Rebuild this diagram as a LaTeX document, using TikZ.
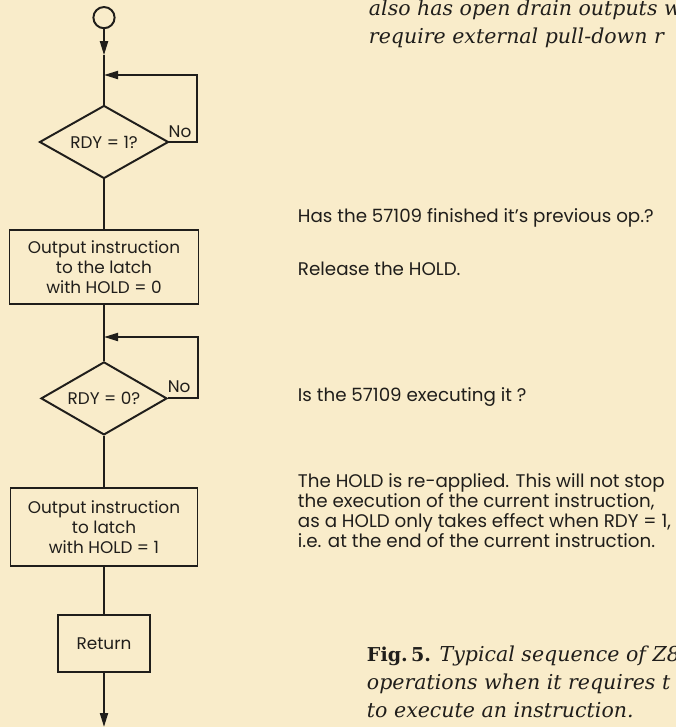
\documentclass[tikz,border=0pt]{standalone}
\usepackage{fontspec}
\setmainfont{DejaVu Serif}
\setsansfont{Poppins}
\usetikzlibrary{shapes.geometric,arrows.meta}
\definecolor{paper}{RGB}{249,236,202}
\definecolor{ink}{RGB}{32,30,27}

\begin{document}
\begin{tikzpicture}[>={Triangle[length=0.35cm,width=0.2cm]},line width=1.4pt,draw=ink,text=ink,
  font=\sffamily\fontsize{12}{14.2}\selectfont,
  box/.style={draw,rectangle,align=center,inner sep=0},
  decision/.style={draw,diamond,aspect=1.8,inner sep=0},
  note/.style={anchor=west,inner sep=0,align=left,font=\sffamily\fontsize{13}{14.2}\selectfont},
  prose/.style={note,font=\rmfamily\itshape\fontsize{14.6}{19.9}\selectfont}]
\fill[paper] (0,0) rectangle (16.9,-18.175);
\clip (0,0) rectangle (16.9,-18.175);

\node[draw,circle,minimum size=0.53cm,inner sep=0] (start) at (2.6,-0.44) {};
\coordinate (mid1) at (2.6,-1.38);
\coordinate (join1) at (2.6,-1.875);
\node[decision,minimum width=3.225cm,minimum height=1.825cm] (rdy1) at (2.6,-3.55) {RDY = 1?};
\node[box,minimum width=4.725cm,minimum height=1.85cm] (hold0) at (2.6,-6.675) {Output instruction\\to the latch\\with HOLD = 0};
\coordinate (join2) at (2.6,-8.425);
\node[decision,minimum width=3.15cm,minimum height=1.825cm] (rdy0) at (2.6,-9.96) {RDY = 0?};
\node[box,minimum width=4.675cm,minimum height=1.95cm] (hold1) at (2.6,-13.175) {Output instruction\\to latch\\with HOLD = 1};
\node[box,minimum width=2.3cm,minimum height=1.425cm] (ret) at (2.6,-16.09) {Return};
\coordinate (exit) at (2.6,-18.175);

\node (no1) at (4.5,-3.3) {No};
\node (no0) at (4.48,-9.675) {No};

\draw[->] (start) -- (mid1);
\draw (mid1) -- (rdy1);
\draw[->] (rdy1.east) -- ++(0.68,0) |- (join1);
\draw (rdy1) -- (hold0);
\draw (hold0) -- (rdy0);
\draw[->] (rdy0.east) -- ++(0.75,0) |- (join2);
\draw (rdy0) -- (hold1);
\draw (hold1) -- (ret);
\draw[->] (ret) -- (exit);

\node[prose] (intro) at (9.2,-0.6) {also has open drain outputs w\\require external pull-down r};
\node[note] (ask1) at (7.425,-5.45) {Has the 57109 finished it's previous op.?};
\node[note] (rel) at (7.425,-6.725) {Release the HOLD.};
\node[note] (ask0) at (7.425,-9.925) {Is the 57109 executing it ?};
\node[note] (reapply) at (7.425,-12.775) {The HOLD is re-applied. This will not stop\\the execution of the current instruction,\\as a HOLD only takes effect when RDY = 1,\\i.e. at the end of the current instruction.};
\node[prose] (caption) at (9.15,-17.05) {{\upshape\bfseries\fontsize{13.6}{19.9}\selectfont Fig.\,5.} Typical sequence of Z8\\operations when it requires t\\to execute an instruction.};
\end{tikzpicture}
\end{document}
